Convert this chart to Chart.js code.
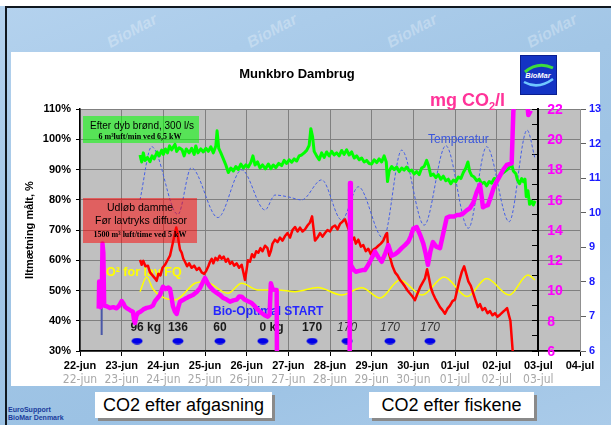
<!DOCTYPE html>
<html><head><meta charset="utf-8">
<script src="https://cdn.jsdelivr.net/npm/chart.js@4.4.1/dist/chart.umd.min.js"></script>
<style>
html,body{margin:0;padding:0}
body{width:611px;height:425px;overflow:hidden;position:relative;background:#fff;font-family:'Liberation Sans',Arial,sans-serif}
#bg{position:absolute;left:0;top:6px;width:611px;height:419px;background:linear-gradient(160deg,#b4d2ee 0%,#a2c6e6 40%,#9cc2e4 70%,#aacbe9 100%)}
#frame{position:absolute;left:5px;top:6px;width:606px;height:419px;border-left:2px solid #101820;border-top:2px solid #101820;box-sizing:border-box}
#panel{position:absolute;left:11px;top:52px;width:589px;height:334px;background:#fff}
.wm{position:absolute;font:italic bold 16px 'Liberation Sans',Arial;color:rgba(255,255,255,0.28);transform:rotate(-28deg)}
.lbl{position:absolute;background:#fff;box-shadow:3px 3px 0 #8a8a8a;font:18px 'Liberation Sans',Arial;color:#000;line-height:26px;text-align:center;height:26px}
#eu{position:absolute;left:8px;top:406px;font:bold 7px 'Liberation Sans',Arial;color:#1a3c9c;line-height:8px}
canvas{position:absolute;left:0;top:0}
</style></head><body>
<div id="bg"></div>
<div class="wm" style="left:105px;top:22px">BioMar</div>
<div class="wm" style="left:245px;top:22px">BioMar</div>
<div class="wm" style="left:385px;top:22px">BioMar</div>
<div class="wm" style="left:525px;top:22px">BioMar</div>
<div id="frame"></div>
<div id="panel"></div>
<svg style="position:absolute;left:520px;top:55px" width="37" height="40">
<rect x="0.5" y="0.5" width="36" height="39" fill="#1434c4" stroke="#0a1e90"/>
<path d="M5 17 Q18 6 33 13" stroke="#3ddc3d" stroke-width="3" fill="none"/>
<text x="18" y="23" font-size="7.5" font-style="italic" font-weight="bold" fill="#fff" text-anchor="middle" font-family="Liberation Sans">BioMar</text>
<path d="M4 27 Q18 35 33 24" stroke="#70c8ff" stroke-width="2.5" fill="none"/>
</svg>
<div class="lbl" style="left:95px;top:392px;width:177px">CO2 efter afgasning</div>
<div class="lbl" style="left:369px;top:392px;width:165px">CO2 efter fiskene</div>
<div id="eu">EuroSupport<br>BioMar Denmark</div>
<canvas id="c" width="611" height="425"></canvas>
<script>
// ---- categories / tick labels ----
const xLabels = ['22-jun','23-jun','24-jun','25-jun','26-jun','27-jun','28-jun','29-jun','30-jun','01-jul','02-jul','03-jul','04-jul'];
const ghostLabels = ['22-jun','23-jun','24-jun','25-jun','26-jun','27-jun','28-jun','29-jun','30-jun','01-jul','02-jul','03-jul'];
const pinkTicks = [6,8,10,12,14,16,18,20,22];
const pinkAxisAt = 11; // days after 22-jun (03-jul)

// ---- O2 after deep well (%), x = days after 22-jun 00:00 ----
const wellDays = [1.44,1.48,1.52,1.56,1.62,1.68,1.73,1.78,1.85,1.9,1.96,2.0,2.05,2.1,2.15,2.2,2.28,2.32,2.38,2.45,2.5,2.55,2.62,2.68,2.74,2.78,2.83,2.9,2.96,3.02,3.08,3.14,3.2,3.26,3.29,3.33,3.38,3.44,3.5,3.56,3.62,3.68,3.74,3.8,3.86,3.92,3.98,4.04,4.1,4.15,4.2,4.26,4.32,4.38,4.45,4.52,4.58,4.64,4.7,4.77,4.84,4.9,4.96,5.02,5.08,5.14,5.2,5.26,5.32,5.38,5.44,5.5,5.54,5.58,5.62,5.68,5.74,5.8,5.86,5.92,5.98,6.04,6.1,6.16,6.22,6.28,6.34,6.4,6.46,6.52,6.58,6.64,6.7,6.76,6.82,6.88,6.94,7.0,7.06,7.12,7.18,7.24,7.3,7.35,7.38,7.42,7.48,7.54,7.6,7.66,7.72,7.78,7.84,7.9,7.96,8.02,8.08,8.14,8.2,8.26,8.32,8.36,8.42,8.48,8.54,8.6,8.66,8.72,8.78,8.84,8.9,8.96,9.02,9.08,9.14,9.2,9.26,9.31,9.35,9.4,9.46,9.52,9.58,9.64,9.7,9.76,9.82,9.88,9.94,10.0,10.06,10.12,10.18,10.24,10.3,10.36,10.4,10.46,10.5,10.55,10.6,10.64,10.68,10.71,10.75,10.79,10.84,10.88,10.92];
const wellVals = [94.8,92.5,95.5,93,94,92.6,94.5,93.5,95.8,94.5,96.4,95,96.8,95.5,97.8,96.5,98.3,96,97.2,96.5,94.5,96.8,95.5,97,95,97.8,95.5,96.8,95.8,97,96,97.5,95.5,97.8,102.8,97,95.5,93.5,91.5,89,90.5,89.5,91,90,91.8,90.5,91.5,90.8,92.3,94.5,91.5,92.5,90.5,91.5,90.2,91.8,90.3,91.5,90.6,92,91.3,93,92,93.2,92.4,93.5,92.8,94.5,94.8,95.5,96.3,98,103.5,101,96,94.5,93.2,95.5,94,95.8,94.5,96,94.8,95.5,94.5,96.3,95,96.5,94.8,95.8,93.8,94.5,93.2,93.8,92.5,93,92,91.8,93.2,92.3,93.5,92.5,94.5,92.5,86,89.5,91,90,90.8,89.3,90.5,89.8,90.8,89.5,89.8,88.5,89.3,88.3,90.5,91,93,91.5,88,88.5,87.3,88.3,86.8,87.8,86.3,86.8,85.3,86.5,86,87.5,87,89,90.5,92.5,89.5,88,87.5,86.3,86.8,85.3,85.8,84.6,86,85.5,87,86.8,88,88.6,89.2,89.8,90.6,91.8,89.5,88.6,86.5,85.3,87,86,86.8,81,83,78.5,79.5,78.3,79.6];

// ---- O2 pond outlet (%) ----
const outDays = [1.44,1.48,1.52,1.57,1.63,1.68,1.74,1.8,1.84,1.88,1.93,1.98,2.04,2.1,2.16,2.2,2.24,2.28,2.31,2.34,2.37,2.4,2.44,2.48,2.52,2.57,2.62,2.68,2.74,2.8,2.86,2.92,2.98,3.03,3.08,3.12,3.16,3.2,3.25,3.3,3.35,3.4,3.45,3.5,3.55,3.6,3.65,3.7,3.76,3.82,3.88,3.92,3.96,4.0,4.03,4.08,4.13,4.18,4.23,4.28,4.33,4.38,4.44,4.5,4.54,4.58,4.62,4.68,4.74,4.8,4.86,4.92,4.98,5.04,5.1,5.16,5.22,5.28,5.34,5.4,5.46,5.52,5.57,5.6,5.64,5.7,5.76,5.82,5.88,5.94,6.0,6.06,6.12,6.18,6.24,6.3,6.36,6.4,6.44,6.48,6.52,6.58,6.62,6.68,6.74,6.8,6.86,6.92,6.98,7.04,7.1,7.16,7.22,7.28,7.34,7.37,7.4,7.45,7.5,7.56,7.62,7.68,7.74,7.8,7.86,7.92,7.98,8.04,8.1,8.16,8.22,8.28,8.33,8.37,8.42,8.47,8.52,8.58,8.64,8.7,8.76,8.82,8.88,8.94,9.0,9.05,9.1,9.16,9.22,9.27,9.32,9.38,9.44,9.5,9.55,9.6,9.66,9.72,9.78,9.84,9.9,9.96,10.02,10.08,10.14,10.2,10.25,10.3,10.33,10.36,10.39];
const outVals = [60.1,58.5,59.8,58,58.2,56,55,54,53.2,55.5,55,57.5,58.5,60,61.5,64,66.5,69,70.8,69,66,63.5,62.5,60.5,59.5,58,59,57.5,58.2,56.8,57.5,56,55.5,56.5,58,59.5,60.5,59,60.8,60,61.5,60.5,61.2,59.5,60.5,58.8,59.5,58.2,59,57.5,58.5,56,53.5,57,60,59.5,62,61,63,62.5,64,63,64.8,64,61.5,63,65.5,66.8,66,67.5,66.5,68,69,67.5,70,71,69.5,70.8,69.5,70.2,71.5,72.5,74.5,71,66.5,67.5,69,67.8,69,70,69.5,71,71.5,70.2,72,72.8,73.5,72,70.5,69,66.5,67.5,65.5,66.8,64.5,65,63,63.8,62,63.5,64,64.8,65.5,66.5,68.5,69,63,60.5,58,56,55,53.5,52.5,51.3,50,49,48,46.8,49,51,52.5,54,57,54.5,51,49,47.5,46,44.5,43.5,42.3,44,45,46.5,47,50,53,56,58,55.5,53,51.5,49,46.5,44.5,45.5,43.5,44.2,42.5,43.2,41.8,42.5,41.3,42,42.8,43.5,44.2,41.5,40,34.5,29];

// ---- CO2 (mg/l) ----
const co2Days = [0.45,0.46,0.48,0.49,0.52,0.54,0.56,0.58,0.64,0.72,0.8,0.88,0.94,1.0,1.05,1.08,1.14,1.2,1.27,1.3,1.32,1.35,1.39,1.45,1.52,1.6,1.68,1.75,1.8,1.86,1.92,1.99,2.05,2.12,2.16,2.2,2.23,2.28,2.32,2.36,2.4,2.46,2.52,2.56,2.62,2.71,2.8,2.88,2.94,3.0,3.06,3.12,3.2,3.28,3.36,3.44,3.52,3.6,3.68,3.76,3.82,3.88,3.95,4.02,4.12,4.2,4.28,4.36,4.44,4.51,4.55,4.58,4.62,4.66,4.72,4.73,6.47,6.48,6.5,6.56,6.62,6.7,6.78,6.84,6.92,7.0,7.08,7.16,7.24,7.32,7.4,7.48,7.56,7.64,7.72,7.8,7.88,7.94,8.0,8.08,8.16,8.24,8.3,8.35,8.41,8.47,8.55,8.64,8.72,8.8,8.88,8.98,9.05,9.12,9.2,9.28,9.36,9.44,9.52,9.6,9.64,9.67,9.73,9.79,9.86,9.93,10.0,10.08,10.16,10.24,10.3,10.36,10.4,10.44,10.7,10.76,10.82];
const co2Vals = [8.8,10.6,10.3,8.9,9.0,13.1,12.5,9.0,8.96,8.85,8.9,8.82,9.0,9.3,9.1,8.93,8.8,8.7,8.6,8.0,7.85,8.3,8.51,8.6,8.75,8.85,8.9,9.0,9.3,9.5,9.7,10.25,10.1,10.2,10.1,9.5,8.96,8.6,8.45,8.9,9.26,9.35,9.45,9.5,9.6,9.7,9.9,10.16,10.5,10.83,10.5,10.25,10.0,9.85,9.7,9.5,9.4,9.26,9.35,9.4,9.6,9.59,9.4,9.3,9.17,8.95,8.7,8.51,8.35,8.27,8.4,10.48,10.1,10.05,10.03,3,3,17.1,11.7,11.4,11.24,11.3,11.35,11.36,11.7,12.13,12.57,12.2,11.9,12.4,13.0,12.3,12.4,12.57,12.8,13.0,13.23,13.6,14.1,14.2,13.7,13.1,12.4,11.7,12.6,13.2,12.9,12.8,13.8,14.8,14.9,14.9,15.0,15.0,15.1,15.3,15.45,15.8,16.5,17.0,16.2,15.5,15.6,15.65,16.2,16.8,17.2,17.6,18.0,18.3,18.35,18.4,21.8,23.5,23.5,21.6,21.9];

// ---- Temperature (deg C) ----
const tempDays = [1.44,1.72,2.35,2.67,3.31,3.88,4.44,4.68,4.99,5.32,5.80,6.28,6.68,7.28,7.72,8.26,8.78,9.32,9.76,10.30,10.73,10.92];
const tempVals = [10.37,11.91,9.95,11.3,9.86,11.24,10.08,10.51,10.46,10.37,10.95,9.79,10.75,9.26,11.81,9.64,11.94,9.55,11.91,9.74,12.39,11.57];

// ---- O2 for low FQ (%) ----
const fqDays = [1.44,1.6,1.75,1.96,2.28,2.76,3.0,3.55,3.88,4.27,4.75,5.16,5.71,6.28,6.76,7.20,7.68,8.21,8.74,9.29,9.76,10.30,10.75,10.92];
const fqVals = [49.6,54.5,50.5,48,46.9,52.4,52.9,49.1,52.4,50.2,50.2,49.6,51.0,48.5,50.9,47.5,53.5,48.5,54.5,48,54,48.5,55.1,53.5];

// ---- early marker line (%) ----
const markDays = [0.52,0.52];
const markVals = [60,35.3];

// ---- feed doses ----
const doseDays = [1.37,2.35,3.36,4.39,5.57,6.41,7.44,8.4];
const doseLabels = ['96 kg','136','60','0 kg','170','170','170','170'];
const doseItalic = [false,false,false,false,false,true,true,true];

const pts = (xs, ys) => xs.map((x, i) => ({x: x, y: ys[i]}));
const FF = "'Liberation Sans', Arial, sans-serif";
Chart.defaults.font.family = FF;

const ell = document.createElement('canvas');
ell.width = 12; ell.height = 7;
(function(){const e = ell.getContext('2d'); e.fillStyle = '#0000e8'; e.beginPath(); e.ellipse(6,3.5,5.5,3.2,0,0,Math.PI*2); e.fill();})();

const bgPlugin = {
  id: 'bgp',
  beforeDraw(chart) {
    const {ctx, chartArea: a} = chart;
    ctx.save();
    ctx.fillStyle = '#c0c0c0';
    ctx.fillRect(a.left, a.top, a.right - a.left, a.bottom - a.top);
    ctx.restore();
  }
};

const annot = {
  id: 'annot',
  beforeDatasetsDraw(chart) {
    const {ctx, scales: {x, y}} = chart;
    ctx.save();
    ctx.textBaseline = 'middle';
    ctx.textAlign = 'left';
    doseDays.forEach((d, i) => {
      const it = doseItalic[i];
      ctx.font = (it ? 'italic ' : 'bold ') + '12px ' + FF;
      ctx.fillStyle = it ? '#333333' : '#1a1a1a';
      const num = doseLabels[i].split(' ')[0];
      const w = ctx.measureText(num).width;
      ctx.fillText(doseLabels[i], x.getPixelForValue(d) - w / 2, y.getPixelForValue(37.6));
    });
    ctx.font = 'bold 12.5px ' + FF; ctx.fillStyle = '#ffff00';
    ctx.fillText('O² for lav FQ', 106, 273);
    ctx.font = 'bold 12px ' + FF; ctx.fillStyle = '#2626ff';
    ctx.fillText('Bio-Optimal START', 213, 312);
    ctx.font = '12px ' + FF; ctx.fillStyle = '#3a56dc';
    ctx.fillText('Temperatur', 428, 140);
    ctx.restore();
  },
  afterDatasetsDraw(chart) {
    const ctx = chart.ctx;
    ctx.save();
    ctx.textAlign = 'center'; ctx.textBaseline = 'middle';
    ctx.fillStyle = 'rgba(0,255,0,0.55)';
    ctx.fillRect(83, 116, 116, 27);
    ctx.fillStyle = '#000';
    ctx.font = '10px ' + FF;
    ctx.fillText('Efter dyb brønd, 300 l/s', 142, 126);
    ctx.font = "bold 8px 'Liberation Serif', 'Times New Roman', serif";
    ctx.fillText('6 m³luft/min ved 6,5 kW', 140, 137);
    ctx.fillStyle = 'rgba(255,0,0,0.5)';
    ctx.fillRect(83, 198, 114, 45);
    ctx.fillStyle = '#000';
    ctx.font = '10.5px ' + FF;
    ctx.fillText('Udløb damme', 140, 208.5);
    ctx.fillText('Før lavtryks diffusor', 141, 221.5);
    ctx.font = "bold 8px 'Liberation Serif', 'Times New Roman', serif";
    ctx.fillText('1500 m³ luft/time ved 5 kW', 140, 235);
    ctx.restore();
  },
  afterDraw(chart) {
    const {ctx, scales: {x, y1}} = chart;
    ctx.save();
    ctx.textBaseline = 'middle'; ctx.textAlign = 'left';
    ctx.font = 'bold 14px ' + FF; ctx.fillStyle = '#ff00ff';
    const px = x.getPixelForValue(pinkAxisAt) + 9;
    pinkTicks.forEach(v => ctx.fillText(String(v), px, y1.getPixelForValue(v) + 1));
    // title
    ctx.textAlign = 'center'; ctx.fillStyle = '#000';
    ctx.font = 'bold 13px ' + FF;
    ctx.fillText('Munkbro Dambrug', 297, 74);
    // mg CO2/l
    ctx.textAlign = 'left'; ctx.textBaseline = 'alphabetic';
    ctx.fillStyle = '#ff3399';
    let cx = 430;
    ctx.font = 'bold 18px ' + FF;
    ctx.fillText('mg CO', cx, 106); cx += ctx.measureText('mg CO').width;
    ctx.font = 'bold 11px ' + FF;
    ctx.fillText('2', cx, 110); cx += ctx.measureText('2').width;
    ctx.font = 'bold 18px ' + FF;
    ctx.fillText('/l', cx, 106);
    ctx.restore();
  }
};

new Chart(document.getElementById('c'), {
  type: 'line',
  data: {
    datasets: [
      {data: pts(co2Days, co2Vals), yAxisID: 'y1', borderColor: '#ff00ff', borderWidth: 4.5, borderJoinStyle: 'round'},
      {data: pts(outDays, outVals), yAxisID: 'y', borderColor: '#ff0000', borderWidth: 2.5, borderJoinStyle: 'round'},
      {data: pts(wellDays, wellVals), yAxisID: 'y', borderColor: '#00ff00', borderWidth: 3, borderJoinStyle: 'round'},
      {data: pts(fqDays, fqVals), yAxisID: 'y', borderColor: '#ffff00', borderWidth: 1.5, cubicInterpolationMode: 'monotone'},
      {data: pts(tempDays, tempVals), yAxisID: 'y2', borderColor: '#4660e6', borderWidth: 1, borderDash: [3, 2], cubicInterpolationMode: 'monotone'},
      {data: pts(markDays, markVals), yAxisID: 'y', borderColor: '#4a58a8', borderWidth: 2},
      {data: pts(doseDays, doseDays.map(() => 33.3)), yAxisID: 'y', showLine: false, pointStyle: ell, pointRadius: 6}
    ]
  },
  options: {
    responsive: false,
    animation: false,
    layout: {padding: {top: 109, bottom: 38, left: 0, right: 0}},
    plugins: {legend: {display: false}, tooltip: {enabled: false}, title: {display: false}},
    elements: {point: {radius: 0}, line: {tension: 0}},
    scales: {
      x: {
        type: 'linear', position: 'bottom', min: 0, max: 12,
        ticks: {stepSize: 1, autoSkip: false, maxRotation: 0, padding: 3, color: '#000', font: {size: 11, weight: 'bold'}, callback: v => xLabels[v]},
        grid: {color: '#808080', lineWidth: 1, tickColor: '#000', tickLength: 5},
        border: {color: '#000', width: 1.5},
        afterFit: s => { s.height = 20; }
      },
      x2: {
        type: 'linear', position: 'bottom', min: 0, max: 12,
        ticks: {stepSize: 1, autoSkip: false, maxRotation: 0, padding: -5, color: '#a8a8a8', font: {size: 12, lineHeight: 1.0, family: "'Liberation Sans Narrow', 'Arial Narrow', 'DejaVu Sans Condensed', sans-serif"}, callback: v => (ghostLabels[v] || '')},
        grid: {display: false},
        border: {display: false},
        afterFit: s => { s.height = 16; }
      },
      y: {
        type: 'linear', position: 'left', min: 30, max: 110,
        ticks: {stepSize: 10, padding: 5, color: '#000', font: {size: 11, weight: 'bold'}, callback: v => v + '%'},
        grid: {color: '#808080', lineWidth: 1, tickColor: '#000', tickLength: 4},
        border: {color: '#000', width: 1.5},
        title: {display: true, text: 'Iltmætning målt, %', color: '#000', font: {size: 11, weight: 'bold'}, padding: {top: 23, bottom: 0}},
        afterFit: s => { s.width = 80; }
      },
      y1: {
        type: 'linear', position: {x: pinkAxisAt}, min: 6, max: 22,
        ticks: {stepSize: 1, display: false},
        grid: {drawOnChartArea: false, tickLength: 5, color: '#000', tickColor: '#000'},
        border: {color: '#000', width: 2}
      },
      y2: {
        type: 'linear', position: 'right', min: 6, max: 13,
        ticks: {stepSize: 1, padding: 3, color: '#1a1aff', font: {size: 11, weight: 'bold'}},
        grid: {drawOnChartArea: false, tickLength: 6, color: '#606060', tickColor: '#606060'},
        border: {color: '#909090', width: 1},
        afterFit: s => { s.width = 31; }
      }
    }
  },
  plugins: [bgPlugin, annot]
});
</script>
</body></html>
